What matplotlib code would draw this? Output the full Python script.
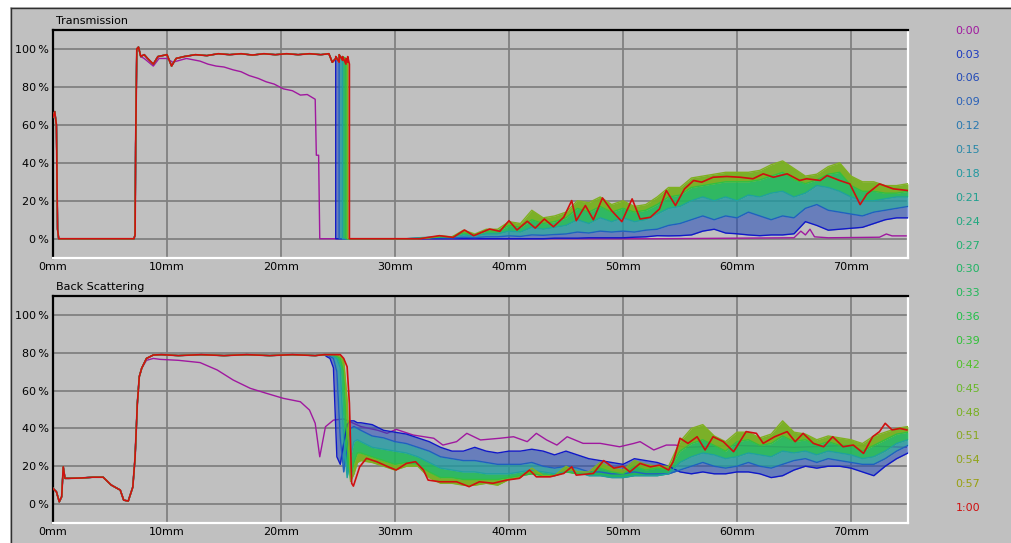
import numpy as np
import matplotlib
matplotlib.use("Agg")
import matplotlib.pyplot as plt
from matplotlib.patches import Rectangle
from matplotlib.lines import Line2D

BG, GRID_C = "#c0c0c0", "#808080"
plt.rcParams["font.family"] = ["DejaVu Sans"]

# legend times and their colours
TIMES = ["0:00", "0:03", "0:06", "0:09", "0:12", "0:15", "0:18", "0:21", "0:24",
         "0:27", "0:30", "0:33", "0:36", "0:39", "0:42", "0:45", "0:48", "0:51",
         "0:54", "0:57", "1:00"]
TCOL = ["#a0189f", "#1a38c0", "#2048b8", "#2860b8", "#2878b0", "#2888a8", "#2098a0",
        "#20a090", "#20a880", "#20b070", "#20b464", "#20b858", "#20c048", "#30c038",
        "#50c028", "#68b828", "#78b020", "#88a820", "#90a418", "#98a010", "#d01010"]
COL = dict(zip(TIMES, TCOL))

# ---------------- Transmission ----------------
T_FRONT_X = [0, 0.15, 0.3, 0.4, 0.5, 7.1, 7.2, 7.25, 7.35, 7.5, 7.7, 8.0, 8.3, 8.8,
             9.2, 10.0, 10.4, 10.8, 11.5, 12.5, 13.5, 14.5, 15.5, 16.5, 17.5, 18.5,
             19.5, 20.5, 21.5, 22.5, 23.5, 24.2, 24.5]
T_FRONT_Y = [64, 67, 60, 5, 0, 0, 2, 50, 100, 101, 96, 97, 95, 92,
             96, 97, 91, 95, 96, 97, 96.5, 97.5, 97, 97.5, 96.8, 97.5,
             97, 97.5, 97, 97.5, 97, 97.5, 93]
# drop zone near 25 mm (paired x = vertical edges)
T_DROP_X = [24.8, 24.8, 25.1, 25.1, 25.4, 25.4, 25.7, 25.7, 25.85, 25.85, 26.0, 26.0, 27.0]
T_DROP = {
    "0:03": [95, 0, 0, 0, 0, 0, 0, 0, 0, 0, 0, 0, 0],
    "0:12": [95, 96, 94, 0, 0, 0, 0, 0, 0, 0, 0, 0, 0],
    "0:24": [95, 96, 93, 97, 95, 0, 0, 0, 0, 0, 0, 0, 0],
    "0:36": [95, 96, 93, 97, 94, 96, 95, 0, 0, 0, 0, 0, 0],
    "0:45": [95, 96, 93, 97, 94, 96, 92, 95, 93, 0, 0, 0, 0],
    "1:00": [95, 96, 93, 97, 94, 96, 92, 95, 93, 96, 92, 0, 0],
}
T_TAIL_X = [28, 29, 30, 31, 32, 33, 34, 35, 36, 37, 38, 39, 40, 41, 42, 43, 44, 45,
            46, 47, 48, 49, 50, 51, 52, 53, 54, 55, 56, 57, 58, 59, 60, 61, 62, 63,
            64, 65, 66, 67, 68, 69, 70, 71, 72, 73, 74, 75]
T_TAIL = {
    "0:03": [0, 0, 0, 0, 0, 0, 0, 0, 0, 0, 0, 0, 0, 0, 0, 0, 0.3, 0.3,
             0.3, 0.5, 0.5, 0.5, 0.5, 0.8, 1, 1.6, 1.5, 1.6, 2, 4, 5, 3, 2.6, 2, 1.6, 2,
             2, 2.6, 9, 7, 4.5, 5, 5.5, 6, 8, 10, 11, 11],
    "0:12": [0, 0, 0, 0, 0.3, 0.5, 0.5, 0.4, 0.8, 0.6, 1, 1, 1.5, 1.2, 2, 1.8, 2.2, 2.5,
             3.5, 3, 4, 3.5, 4, 3.5, 4.5, 5, 7, 8, 10, 12, 10, 12, 11, 14, 12, 10,
             12, 11, 16, 18, 15, 14, 13, 12, 14, 15, 16, 17],
    "0:24": [0, 0, 0, 0, 0.5, 0.8, 1, 1, 2, 1.5, 2.5, 2.5, 4, 3.5, 6, 5, 6, 7,
             10, 8, 11, 9, 11, 9, 10, 13, 16, 17, 20, 22, 20, 22, 20, 23, 22, 24,
             25, 22, 24, 28, 27, 25, 22, 20, 20, 21, 22, 22],
    "0:36": [0, 0, 0, 0, 0, 0.5, 1, 1, 3, 2, 4, 4, 7, 6, 10, 8, 9, 11,
             16, 14, 17, 14, 16, 14, 15, 18, 22, 23, 27, 28, 29, 30, 30, 30, 31, 33,
             35, 31, 29, 31, 34, 35, 28, 25, 25, 24, 24, 25],
    "0:45": [0, 0, 0, 0, 0, 0.5, 1.5, 1, 4.5, 2.5, 5, 5, 9, 8, 15, 11, 12, 14,
             20, 19, 22, 18, 20, 17, 18, 22, 27, 27, 32, 33, 34, 35, 35, 35, 36, 39,
             41, 37, 33, 34, 38, 40, 33, 30, 30, 28, 28, 29],
}
T_RED_X = [27, 32.2, 33.0, 33.9, 35.1, 36.1, 36.9, 38.3, 39.2, 40.0, 40.7, 41.6, 42.3,
           43.1, 43.9, 44.8, 45.5, 45.9, 46.7, 47.4, 48.2, 49.0, 49.9, 50.8, 51.5,
           52.4, 53.2, 53.8, 54.6, 55.4, 56.2, 56.9, 57.9, 59.1, 60.3, 61.4, 62.3,
           63.2, 64.4, 65.5, 66.1, 67.3, 67.9, 69.0, 69.9, 70.8, 71.4, 72.5, 73.7, 75]
T_RED_Y = [0, 0, 0.8, 1.6, 0.7, 4.6, 1.6, 5.1, 3.9, 9.5, 4.6, 9.2, 5.6,
           10.4, 6.3, 11.3, 20.1, 9.5, 17.5, 10, 21.5, 14.8, 9, 21, 10.4,
           11.3, 15.7, 25.4, 17.5, 26.3, 30.7, 29.8, 32.4, 32.8, 32.4, 31.6, 34.2,
           32.4, 34.2, 30.7, 31.6, 30.7, 33.3, 30.7, 28.9, 18, 23.6, 28.9, 26.3, 25.4]
T_MAG_X = [0, 0.15, 0.3, 0.4, 0.5, 7.1, 7.2, 7.25, 7.35, 7.5, 7.7, 8.0, 8.8, 9.3, 10.0,
           10.5, 11.7, 12.9, 13.6, 14.3, 15.0, 15.8, 16.5, 17.2, 18.0, 18.7, 19.4,
           20.2, 21.0, 21.7, 22.3, 23.0, 23.1, 23.3, 23.4, 53, 65, 65.6, 66.0, 66.4,
           66.8, 68, 72.5, 73.1, 73.6, 75]
T_MAG_Y = [64, 67, 60, 5, 0, 0, 2, 50, 100, 101, 96, 95, 91, 95, 95,
           93, 95, 93.6, 92, 91, 90.5, 89, 88, 86, 84.5, 82.7, 81.5,
           79, 78, 75.7, 76, 73.5, 44, 44, 0, 0, 0.5, 4, 2, 5,
           1, 0.5, 0.8, 2.5, 1.5, 1.5]

# ---------------- Back Scattering ----------------
B_FRONT_X = [0, 0.3, 0.55, 0.76, 0.9, 1.05, 1.4, 2.5, 3.5, 4.4, 5.1, 5.9, 6.2, 6.6,
             7.0, 7.2, 7.4, 7.57, 7.78, 8.2, 8.8, 9.5, 11, 13, 15, 17, 19, 21, 23, 23.8]
B_FRONT_Y = [8.3, 6.5, 1.2, 3.9, 19.7, 13.6, 13.6, 13.8, 14.2, 14.2, 10.1, 7.4, 2.1, 1.6,
             9, 24.7, 53.3, 67.4, 71.8, 77, 78.8, 79, 78.5, 79, 78.5, 79, 78.5, 79, 78.5, 79]
B_TAIL_X = [24.0, 24.3, 24.6, 24.9, 25.2, 25.5, 25.8, 26.1, 26.4, 26.7,
            27, 28, 29, 30, 31, 32, 33, 34, 35, 36, 37, 38, 39, 40, 41, 42, 43, 44,
            45, 46, 47, 48, 49, 50, 51, 52, 53, 54, 55, 56, 57, 58, 59, 60, 61, 62,
            63, 64, 65, 66, 67, 68, 69, 70, 71, 72, 73, 74, 75]
B_TAIL = {
    "0:03": [78, 77, 72, 25, 21, 32, 42, 44, 44, 43,
             43, 42, 39, 38, 37, 35, 33, 30, 28, 28, 30, 28, 27, 28, 28, 29, 28, 26,
             28, 26, 24, 23, 22, 21, 24, 23, 22, 20, 17, 16, 17, 16, 16, 17, 17, 16,
             14, 15, 18, 20, 19, 20, 20, 19, 17, 15, 20, 24, 27],
    "0:12": [79, 78, 77, 70, 35, 17, 30, 40, 41, 40,
             39, 36, 35, 33, 32, 30, 28, 25, 24, 23, 23, 22, 21, 21, 21, 22, 20, 19,
             20, 19, 17, 17, 16, 16, 17, 16, 16, 16, 18, 20, 22, 20, 19, 20, 22, 20,
             19, 21, 23, 24, 22, 24, 23, 22, 21, 21, 24, 28, 31],
    "0:24": [79, 79, 78, 77, 72, 35, 14, 25, 33, 34,
             33, 30, 29, 28, 27, 25, 22, 19, 18, 17, 17, 16, 16, 16, 17, 18, 17, 16,
             17, 17, 15, 15, 14, 14, 15, 15, 15, 16, 22, 25, 27, 26, 24, 25, 27, 26,
             25, 28, 27, 28, 26, 28, 27, 26, 24, 25, 28, 32, 34],
    "0:36": [79, 79, 79, 78, 77, 70, 30, 13, 22, 27,
             27, 25, 23, 21, 22, 21, 17, 14, 14, 13, 13, 13, 13, 14, 15, 16, 15, 15,
             17, 16, 16, 19, 17, 16, 20, 18, 19, 18, 28, 32, 34, 31, 28, 33, 34, 31,
             32, 36, 33, 34, 31, 33, 31, 31, 28, 31, 34, 37, 38],
    "0:45": [79, 79, 79, 79, 78, 76, 55, 12, 16, 22,
             23, 22, 20, 18, 20, 20, 14, 11, 11, 10, 10, 11, 10, 13, 14, 19, 15, 15,
             20, 17, 17, 22, 19, 18, 23, 21, 20, 20, 33, 40, 42, 36, 33, 38, 38, 35,
             37, 44, 38, 37, 34, 36, 35, 34, 32, 36, 38, 40, 41],
}
B_RED_X = [24.5, 25.2, 25.5, 25.8, 26.0, 26.2, 26.35, 26.9, 27.5, 28.4, 29.4, 30.1, 31.0,
           31.8, 32.5, 32.9, 33.9, 35.4, 36.5, 37.4, 38.6, 39.8, 40.9, 41.8, 42.4,
           43.6, 44.8, 45.5, 45.9, 47.4, 48.3, 49.2, 50.0, 50.6, 51.5, 52.4, 53.2,
           54.0, 54.4, 55.0, 55.7, 56.5, 57.2, 57.9, 58.8, 59.7, 60.8, 61.7, 62.3,
           63.3, 64.4, 65.1, 65.8, 66.7, 67.6, 68.4, 69.3, 70.2, 71.1, 71.9, 72.5,
           73.0, 73.6, 74.3, 74.9]
B_RED_Y = [79, 79, 77, 72.6, 53.3, 11, 9.5, 19.7, 24.2, 22.4, 19.7, 18, 21.5,
           22.4, 18, 12.7, 11.8, 11.8, 9.2, 11.8, 11, 12.7, 13.6, 18, 14.4,
           14.4, 16.2, 19.7, 15.3, 16.2, 23, 19, 20, 17, 21.5, 19.7, 20.6,
           18, 22.4, 34.8, 32.1, 35.6, 28.6, 35.6, 33, 27.7, 38.3, 37.4, 32.1,
           35.6, 38.3, 33, 37.4, 32.1, 30.3, 35.6, 30.3, 31.2, 26.8, 35.6, 38.3,
           42.7, 39.2, 40, 39.2]
B_MAG_X = [0, 0.3, 0.55, 0.76, 0.9, 1.05, 1.4, 2.5, 3.5, 4.4, 5.1, 5.9, 6.2, 6.6,
           7.0, 7.2, 7.4, 7.57, 7.78, 8.2, 8.8, 9.4, 11, 12.9, 14.4, 15.8, 17.3, 18.7,
           20.2, 21.7, 22.5, 23.0, 23.4, 23.9, 24.6, 25.5, 27, 28.5, 29.3, 30.1, 31.6,
           33.4, 34.2, 35.4, 36.3, 37.5, 39.2, 40.4, 41.6, 42.4, 43.3, 44.2, 45.1,
           46.5, 48, 49.7, 50.9, 51.5, 52.7, 53.8, 54.6, 55.5, 60, 65, 70, 75]
B_MAG_Y = [8.3, 6.5, 1.2, 3.9, 19.7, 13.6, 13.6, 13.8, 14.2, 14.2, 10.1, 7.4, 2.1, 1.6,
           9, 24.7, 53.3, 67.4, 71.8, 76, 77, 76.5, 76, 74.8, 70.9, 65.6, 61.2, 58.6,
           55.9, 54.1, 49.7, 42.7, 25, 40.9, 44.4, 45, 41, 39, 37.4, 39.5, 36.5,
           34.8, 31.2, 33, 37.4, 33.9, 34.8, 35.6, 33, 37.4, 33.9, 31.2, 35.6,
           32.1, 32.1, 30.3, 32, 33, 28.6, 31.2, 31.2, 30, 31, 30, 31, 30]

BAND = ["0:03", "0:12", "0:24", "0:36", "0:45"]
FILL = ["0:06", "0:18", "0:33", "0:48"]
FILL_ALPHA = [0.55, 0.8, 0.9, 0.95]
LINE_COL = {"0:03": "#1018c8", "0:12": "#2060c0", "0:24": "#20a0a0",
            "0:36": "#30c040", "0:45": "#80b020"}

W, H = 1011, 543
fig = plt.figure(figsize=(W / 100, H / 100), dpi=100, facecolor=BG)

# window frame
fig.patches.append(Rectangle((0, 1 - 7 / H), 1, 7 / H, transform=fig.transFigure,
                             facecolor="white", edgecolor="none", zorder=0))
fig.patches.append(Rectangle((0, 0), 10 / W, 1, transform=fig.transFigure,
                             facecolor="white", edgecolor="none", zorder=0))
fig.lines.append(Line2D([10.5 / W, 1], [1 - 7.5 / H, 1 - 7.5 / H], transform=fig.transFigure,
                        color="#303030", lw=1))
fig.lines.append(Line2D([10.5 / W, 10.5 / W], [0, 1 - 7.5 / H], transform=fig.transFigure,
                        color="#303030", lw=1))


def panel(rect, title, curves, red, mag):
    ax = fig.add_axes(rect, facecolor=BG)
    ax.set_xlim(0, 75)
    ax.set_ylim(-10, 110)
    ax.set_xticks(range(0, 80, 10))
    ax.set_xticklabels([f"{v}mm" for v in range(0, 80, 10)])
    ax.set_yticks(range(0, 120, 20))
    ax.set_yticklabels([f"{v}\u2009%" for v in range(0, 120, 20)])
    ax.tick_params(length=0, labelsize=8, colors="black", pad=3)
    ax.grid(color=GRID_C, lw=1.3, zorder=0)
    for s in ("top", "left"):
        ax.spines[s].set_color("black")
        ax.spines[s].set_linewidth(1.6)
    for s in ("bottom", "right"):
        ax.spines[s].set_color("white")
        ax.spines[s].set_linewidth(1.6)
    ax.text(0.003, 1.04, title, transform=ax.transAxes, fontsize=8, ha="left", va="center")

    ax.plot(mag[0], mag[1], color=COL["0:00"], lw=1.0, zorder=2)
    x = np.array(curves[0])
    for i, fc in enumerate(FILL):
        ax.fill_between(x, curves[1][BAND[i]], curves[1][BAND[i + 1]],
                        color=COL[fc], alpha=FILL_ALPHA[i], lw=0, zorder=3)
    for t in BAND:
        ax.plot(x, curves[1][t], color=LINE_COL[t], lw=1.0, zorder=4)
    ax.plot(red[0], red[1], color=COL["1:00"], lw=1.2, zorder=5)
    return ax


# assemble transmission curves
t_x = T_FRONT_X + T_DROP_X + T_TAIL_X
t_curves = {t: T_FRONT_Y + T_DROP[t] + T_TAIL[t] for t in BAND}
t_red = (T_FRONT_X + T_DROP_X + T_RED_X, T_FRONT_Y + T_DROP["1:00"] + T_RED_Y)
panel([53 / W, 1 - 257.7 / H, 855 / W, 227.7 / H], "Transmission",
      (t_x, t_curves), t_red, (T_MAG_X, T_MAG_Y))

b_x = B_FRONT_X + B_TAIL_X
b_curves = {t: B_FRONT_Y + B_TAIL[t] for t in BAND}
b_red = (B_FRONT_X + B_RED_X, B_FRONT_Y + B_RED_Y)
panel([53 / W, 1 - 523 / H, 855 / W, 227 / H], "Back Scattering",
      (b_x, b_curves), b_red, (B_MAG_X, B_MAG_Y))

# time legend
for i, (t, c) in enumerate(zip(TIMES, TCOL)):
    fig.text(968 / W, 1 - (30.7 + i * 23.87) / H, t, color=c, fontsize=8,
             ha="center", va="center")

fig.savefig("out.png", dpi=100, facecolor=BG)
